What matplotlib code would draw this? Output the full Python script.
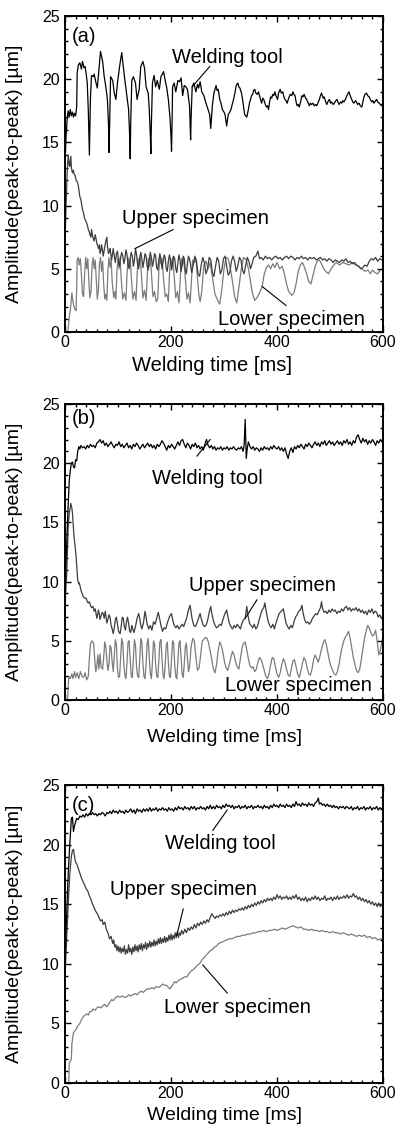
import matplotlib
matplotlib.use('Agg')
import matplotlib.pyplot as plt
from matplotlib.ticker import MultipleLocator

plt.rcParams['font.family'] = ['Liberation Sans', 'DejaVu Sans']

# ---------------- data (time [ms], amplitude [um]) ----------------
a_tool = [(0,13.0),(2,15.5),(4,16.8),(6,17.5),(8,17.0),(10,17.6),(12,17.1),(14,17.4),(16,17.0),(18,17.3),(20,17.1),(22,17.8),(23,20.5),(25,21.1),(28,21.3),(31,20.8),(33,21.4),(36,20.9),(38,21.0),(40,20.4),(42,19.7),(44,17.5),(46,14.0),(48,18.5),(50,20.3),(53,20.2),(55,20.4),(58,19.8),(61,19.3),(64,20.8),(67,22.2),(69,21.8),(71,21.4),(74,20.2),(77,19.4),(80,18.4),(82,16.5),(83,14.2),(84,16.0),(86,20.2),(90,19.9),(93,18.9),(96,18.4),(99,19.7),(103,21.0),(107,22.1),(110,21.0),(113,19.9),(116,18.9),(120,17.6),(122,15.5),(123,13.7),(124,16.5),(126,19.9),(129,20.2),(133,19.7),(136,18.4),(140,19.2),(143,21.0),(147,21.4),(150,20.9),(153,19.4),(157,18.9),(159,17.6),(161,15.5),(162,14.1),(163,16.5),(165,19.7),(168,20.3),(171,19.4),(174,19.9),(178,19.2),(181,20.2),(186,20.6),(189,19.9),(192,19.3),(195,18.4),(198,17.0),(200,15.5),(201,14.3),(202,16.5),(203,19.4),(206,19.7),(209,19.0),(213,19.9),(216,19.8),(219,20.1),(222,18.7),(225,19.5),(228,19.4),(231,19.2),(235,17.9),(237,15.2),(238,17.0),(240,19.4),(243,19.7),(247,19.0),(250,19.6),(252,19.3),(255,19.8),(258,19.0),(262,18.7),(266,18.1),(270,17.6),(273,17.2),(275,16.1),(278,17.9),(281,18.9),(285,19.5),(287,19.1),(289,19.2),(292,18.4),(295,18.0),(297,17.6),(300,17.4),(302,17.2),(305,16.3),(308,17.2),(311,17.4),(313,17.6),(316,18.1),(318,18.4),(321,19.0),(323,19.5),(326,19.7),(328,19.4),(330,19.3),(333,18.9),(335,18.4),(337,17.8),(339,17.2),(341,17.1),(343,17.0),(346,17.6),(348,18.1),(350,18.4),(352,18.7),(354,18.8),(356,19.1),(358,19.2),(360,18.9),(363,18.8),(365,19.0),(367,18.7),(369,18.4),(371,18.1),(373,18.5),(375,18.4),(378,18.0),(380,17.8),(382,17.9),(384,17.6),(386,18.2),(388,18.6),(390,18.5),(392,18.8),(394,18.7),(396,19.0),(398,18.7),(401,18.4),(403,18.9),(406,19.2),(408,18.9),(411,19.0),(413,18.6),(415,18.4),(417,18.3),(419,18.1),(422,18.5),(425,18.8),(428,18.7),(430,19.0),(432,18.8),(434,18.7),(436,18.2),(438,17.9),(440,18.0),(442,17.8),(445,18.3),(447,18.7),(449,18.6),(451,18.8),(454,18.5),(456,18.4),(459,18.1),(461,17.9),(463,18.1),(465,18.0),(468,18.1),(470,17.9),(473,18.0),(475,17.9),(478,18.2),(480,18.4),(482,18.7),(484,18.9),(487,18.5),(489,18.6),(492,18.2),(494,18.0),(497,18.3),(499,18.4),(501,18.1),(503,18.2),(506,18.0),(508,18.1),(511,18.3),(513,18.4),(515,18.2),(517,18.0),(520,18.2),(522,18.1),(524,18.3),(526,18.2),(529,18.4),(531,18.6),(533,18.8),(536,19.0),(538,18.7),(541,18.4),(543,18.2),(545,18.1),(548,18.3),(550,18.2),(552,18.0),(555,18.1),(557,17.9),(560,17.8),(562,18.2),(564,18.6),(566,18.8),(569,18.9),(571,18.7),(574,18.6),(576,18.4),(579,18.2),(581,18.3),(583,18.1),(586,18.3),(588,18.4),(590,18.2),(593,18.1),(595,18.0),(597,17.9),(600,18.0)]

a_upper = [(0,7.0),(2,10.0),(4,12.5),(6,14.0),(8,13.2),(9,13.1),(11,13.9),(12,13.0),(14,12.6),(16,12.8),(17,12.5),(19,12.4),(21,12.0),(23,11.9),(25,11.6),(27,11.0),(28,10.7),(30,10.5),(31,10.2),(33,9.7),(35,9.4),(37,9.0),(38,8.9),(40,8.7),(41,8.6),(43,8.3),(44,8.1),(46,7.9),(47,7.7),(49,7.5),(50,8.1),(52,7.6),(53,7.4),(55,7.2),(57,7.7),(59,7.3),(60,7.0),(62,6.8),(63,6.6),(65,6.9),(66,6.2),(68,6.5),(69,6.9),(71,6.4),(72,6.0),(74,6.5),(75,6.7),(77,7.2),(79,7.5),(80,6.8),(82,6.2),(84,6.4),(85,6.6),(87,6.0),(88,5.7),(90,6.3),(91,6.6),(93,6.0),(95,5.5),(97,6.2),(99,6.4),(101,5.6),(103,5.2),(105,5.9),(107,6.3),(109,6.0),(111,5.4),(113,5.8),(115,6.5),(117,6.1),(119,5.3),(121,5.0),(123,5.8),(125,6.3),(127,6.0),(129,5.2),(131,5.7),(133,6.6),(135,6.1),(137,5.3),(139,5.0),(141,5.9),(143,6.3),(145,5.8),(147,5.1),(149,5.6),(151,6.2),(153,6.0),(155,5.2),(157,4.9),(159,5.8),(161,6.3),(163,5.9),(165,5.2),(167,5.6),(169,6.2),(171,6.0),(173,5.1),(175,4.9),(177,5.7),(179,6.2),(181,5.8),(183,5.0),(185,5.5),(187,6.1),(189,5.9),(191,5.0),(193,4.8),(195,5.6),(197,6.1),(199,5.7),(201,4.9),(203,5.4),(205,6.0),(207,5.8),(209,5.0),(211,4.7),(213,5.5),(215,6.1),(217,5.7),(219,4.8),(221,5.3),(223,6.0),(225,5.8),(227,4.9),(229,4.6),(231,5.4),(233,6.0),(236,5.6),(239,4.7),(242,5.3),(245,6.0),(248,5.6),(251,4.6),(254,4.4),(257,5.3),(260,5.9),(263,5.5),(266,4.6),(269,5.0),(272,5.9),(275,5.7),(278,4.7),(281,4.4),(284,5.2),(287,5.9),(290,5.6),(293,4.6),(296,4.9),(299,5.8),(302,6.0),(305,5.2),(308,4.5),(311,4.7),(314,5.6),(317,6.0),(320,5.6),(323,4.8),(326,5.2),(329,5.9),(332,5.7),(335,4.9),(338,4.6),(341,5.3),(344,5.9),(347,5.6),(350,5.0),(353,5.4),(356,5.9),(360,6.0),(364,6.4),(367,5.8),(370,5.9),(374,5.7),(378,6.0),(382,5.8),(386,5.9),(390,5.7),(394,5.9),(398,6.0),(402,5.8),(406,5.9),(410,5.7),(414,5.9),(418,6.0),(422,5.8),(426,6.0),(430,5.9),(434,5.7),(438,5.9),(442,5.8),(446,6.0),(450,5.8),(454,5.9),(458,5.7),(462,5.9),(466,5.8),(470,5.9),(474,5.7),(478,5.8),(482,5.9),(486,5.7),(490,5.8),(494,5.6),(498,5.8),(502,5.7),(506,5.5),(510,5.7),(514,5.6),(518,5.5),(522,5.7),(526,5.6),(530,5.8),(534,5.5),(538,5.6),(542,5.4),(546,5.5),(550,5.3),(554,5.2),(558,5.0),(562,5.1),(566,5.3),(570,5.2),(574,5.6),(578,5.8),(582,5.7),(586,5.9),(590,5.6),(594,5.8),(598,5.7),(600,5.8)]

a_lower = [(0,0.0),(5,0.0),(6,0.3),(8,1.2),(10,1.7),(12,2.6),(13,3.1),(15,2.4),(17,2.0),(19,1.8),(21,1.7),(22,3.5),(23,5.7),(25,5.9),(27,5.3),(29,5.8),(31,4.5),(33,3.0),(35,2.8),(37,4.6),(39,5.9),(41,5.0),(43,5.8),(45,4.0),(47,2.7),(49,3.2),(51,5.2),(53,5.9),(55,5.0),(57,5.7),(59,4.2),(61,2.6),(63,3.3),(65,5.4),(67,5.9),(69,4.8),(71,5.6),(73,3.8),(75,2.6),(77,3.0),(79,2.5),(81,4.9),(83,5.9),(85,5.1),(87,5.8),(89,4.0),(92,2.7),(94,3.2),(96,2.6),(98,4.8),(100,5.8),(102,5.0),(104,5.9),(106,4.3),(109,2.6),(112,3.1),(115,2.5),(117,4.6),(119,5.9),(121,5.2),(123,5.8),(125,4.4),(128,2.6),(131,3.2),(134,2.5),(136,4.5),(138,5.8),(140,5.3),(142,5.9),(144,4.6),(147,2.7),(150,3.3),(153,2.5),(155,4.3),(157,5.8),(159,5.2),(161,5.9),(163,4.7),(166,2.8),(169,3.2),(172,2.4),(175,2.6),(177,4.8),(179,5.9),(181,5.4),(183,5.8),(186,4.2),(189,2.8),(192,3.0),(195,2.4),(197,4.5),(199,5.8),(201,5.3),(203,5.9),(206,4.4),(209,2.7),(212,3.2),(215,2.3),(218,4.6),(220,5.8),(222,5.3),(224,5.9),(227,4.3),(230,2.6),(233,3.1),(236,2.3),(239,4.4),(241,5.7),(244,5.5),(247,5.8),(250,4.2),(253,2.8),(255,2.4),(258,3.2),(262,5.3),(266,5.6),(270,5.0),(274,5.5),(278,4.4),(283,3.0),(287,2.6),(292,2.2),(296,3.4),(300,5.0),(304,5.9),(308,5.8),(312,5.0),(316,4.0),(320,2.8),(324,2.3),(328,3.5),(333,5.1),(337,5.9),(342,5.7),(346,5.0),(350,4.0),(354,3.0),(358,2.5),(362,2.7),(366,3.0),(372,3.6),(376,4.6),(380,5.1),(384,5.3),(388,5.0),(392,5.4),(396,5.1),(400,5.5),(405,5.0),(410,5.2),(414,4.6),(418,3.8),(422,3.2),(428,2.9),(432,3.1),(436,3.8),(440,4.8),(444,5.3),(448,5.5),(452,5.1),(456,4.6),(460,4.0),(464,3.8),(468,4.5),(472,5.2),(476,5.6),(480,5.7),(484,5.4),(488,5.0),(492,4.8),(497,4.6),(502,5.0),(507,5.3),(512,5.5),(518,5.3),(524,5.5),(530,5.4),(536,5.3),(542,5.5),(548,5.3),(554,5.2),(560,5.0),(566,4.8),(572,4.9),(576,4.6),(580,4.9),(585,4.7),(590,4.6),(595,4.9),(600,5.0)]

b_tool = [(0,9.0),(3,13.0),(6,16.5),(8,18.5),(10,19.4),(12,20.0),(14,20.1),(16,19.7),(18,19.6),(20,20.3),(22,20.2),(24,21.0),(26,21.4),(28,21.2),(30,21.5),(33,21.3),(36,21.4),(39,21.2),(42,21.5),(45,21.3),(48,21.6),(51,21.4),(54,21.5),(57,21.3),(60,21.7),(63,21.8),(66,22.0),(69,21.7),(72,21.9),(75,21.5),(78,21.7),(81,21.4),(84,21.6),(87,21.8),(90,21.5),(93,21.3),(96,21.6),(99,21.5),(102,21.8),(105,21.4),(108,21.6),(111,21.3),(114,21.5),(117,21.7),(120,21.3),(123,21.5),(126,21.2),(129,21.6),(132,21.4),(135,21.7),(138,21.5),(141,21.2),(144,21.4),(147,21.6),(150,21.3),(153,21.5),(156,21.7),(159,21.4),(162,21.6),(165,21.3),(168,21.5),(171,21.2),(174,21.6),(177,21.4),(180,21.6),(183,21.9),(186,21.7),(189,21.4),(192,21.1),(195,21.5),(198,21.3),(201,21.6),(204,21.4),(207,21.2),(210,21.5),(213,21.8),(216,21.5),(219,21.9),(222,22.0),(225,21.6),(228,21.3),(231,21.7),(234,21.5),(237,21.2),(240,21.6),(243,21.4),(246,21.7),(249,21.3),(252,21.5),(255,21.2),(258,21.4),(261,21.1),(264,21.6),(267,22.0),(270,21.5),(273,21.3),(276,21.5),(279,21.2),(282,21.4),(285,21.1),(288,21.3),(291,21.2),(294,21.4),(297,21.1),(300,21.3),(303,21.2),(306,21.4),(309,21.1),(312,21.3),(315,21.2),(318,21.4),(321,21.2),(324,21.1),(327,21.3),(330,21.2),(333,21.4),(336,21.0),(338,21.5),(340,23.7),(341,22.0),(342,20.4),(344,21.3),(346,21.8),(349,21.4),(352,21.2),(355,21.4),(358,21.1),(361,21.3),(364,21.2),(367,21.0),(370,21.3),(373,21.1),(376,21.4),(379,21.2),(382,21.3),(385,21.1),(388,21.4),(391,21.2),(394,21.5),(397,21.3),(400,21.2),(403,21.4),(406,21.1),(409,21.3),(412,21.0),(415,21.3),(418,20.8),(421,20.4),(424,21.0),(427,21.3),(430,20.9),(433,21.4),(436,21.2),(439,21.5),(442,21.3),(445,21.6),(448,21.4),(451,21.2),(454,21.6),(457,21.4),(460,21.7),(463,21.5),(466,21.3),(469,21.6),(472,21.8),(475,21.5),(478,21.7),(481,21.4),(484,21.8),(487,21.6),(490,21.9),(493,21.5),(496,21.7),(499,21.9),(502,21.6),(505,21.8),(508,21.5),(511,21.7),(514,21.9),(517,21.6),(520,21.8),(523,21.5),(526,21.9),(529,21.7),(532,22.0),(535,21.6),(538,21.8),(541,21.5),(544,21.9),(547,21.7),(550,22.2),(553,22.4),(556,22.0),(559,21.7),(562,22.1),(565,21.8),(568,22.0),(571,21.6),(574,21.9),(577,21.7),(580,22.0),(583,21.8),(586,21.5),(589,21.9),(592,21.7),(595,22.0),(598,21.8),(600,21.9)]

b_upper = [(0,8.0),(3,10.4),(6,14.6),(8,15.8),(9,16.0),(11,16.6),(13,16.2),(14,15.8),(16,14.5),(17,13.8),(19,13.0),(21,12.1),(23,10.8),(24,10.1),(26,9.8),(27,9.9),(29,9.5),(30,9.3),(33,8.9),(35,8.7),(38,8.6),(40,8.6),(42,8.3),(44,8.2),(46,8.3),(48,8.0),(50,7.8),(53,7.9),(55,7.5),(57,7.7),(60,6.9),(62,7.3),(63,7.6),(65,7.2),(66,6.8),(68,7.1),(70,7.4),(72,7.3),(74,6.9),(76,7.5),(79,6.5),(81,6.8),(83,7.2),(85,7.0),(87,6.3),(89,6.0),(91,5.6),(93,6.1),(95,6.8),(97,7.0),(99,6.4),(101,5.8),(104,5.6),(106,6.2),(108,7.0),(110,6.9),(112,6.2),(114,5.9),(116,6.6),(118,7.0),(120,6.5),(122,5.8),(124,5.7),(126,6.3),(128,6.0),(130,5.7),(133,6.2),(136,6.9),(139,7.3),(141,6.9),(143,6.3),(145,6.0),(148,6.5),(151,7.5),(153,7.0),(155,6.4),(158,6.0),(161,6.3),(164,5.9),(167,6.6),(170,6.4),(173,6.9),(176,7.4),(178,7.0),(181,6.3),(184,5.8),(187,6.1),(190,6.0),(193,6.5),(196,6.9),(199,7.2),(201,7.3),(203,6.8),(206,6.3),(209,6.1),(212,6.3),(215,6.0),(218,6.2),(221,6.4),(224,6.2),(227,6.6),(230,7.0),(233,7.6),(236,8.0),(238,7.4),(240,6.8),(243,6.3),(246,6.2),(249,6.5),(252,6.9),(255,7.3),(257,6.9),(260,6.4),(263,6.2),(266,6.3),(269,6.7),(272,7.4),(275,7.9),(277,7.3),(280,6.7),(283,6.3),(286,6.1),(289,6.2),(292,6.4),(295,6.3),(298,6.8),(301,7.2),(305,7.6),(307,7.1),(310,6.5),(313,6.2),(316,6.0),(319,6.3),(322,6.1),(325,6.4),(328,6.2),(331,6.0),(334,6.5),(337,6.8),(340,6.9),(343,7.9),(345,7.2),(348,6.5),(351,6.3),(354,6.1),(357,6.4),(360,6.0),(363,6.2),(366,6.7),(369,7.2),(372,7.6),(375,7.8),(377,8.2),(380,7.4),(383,6.7),(386,6.3),(389,6.1),(392,6.4),(395,6.0),(398,6.5),(401,6.9),(404,7.3),(408,7.5),(412,7.7),(414,7.2),(417,6.5),(420,6.2),(423,6.0),(426,6.3),(429,6.1),(432,6.6),(435,7.0),(438,7.2),(441,7.5),(444,7.6),(447,8.0),(449,7.4),(452,6.8),(455,6.5),(458,6.6),(461,6.4),(464,6.6),(467,6.9),(470,7.1),(473,7.3),(476,7.2),(479,7.5),(482,7.8),(484,8.3),(486,7.7),(489,7.4),(492,7.5),(495,7.3),(498,7.6),(501,7.4),(504,7.7),(507,7.5),(510,7.6),(513,7.3),(516,7.5),(519,7.4),(522,7.7),(525,7.5),(528,7.8),(531,7.9),(534,7.6),(537,7.8),(540,7.5),(543,7.7),(546,7.6),(549,7.8),(552,7.5),(555,7.7),(558,7.4),(561,7.6),(564,7.3),(567,7.5),(570,7.2),(573,7.6),(576,7.4),(579,7.7),(582,7.3),(585,7.5),(588,7.4),(591,7.0),(594,7.2),(597,6.9),(600,6.8)]

b_lower = [(0,0.0),(5,0.0),(6,1.2),(7,2.0),(10,1.8),(13,2.2),(15,1.8),(18,2.4),(20,1.9),(23,2.3),(26,1.8),(29,2.4),(32,2.0),(35,1.9),(38,2.3),(41,1.7),(44,2.0),(46,3.5),(48,4.7),(51,5.0),(54,4.8),(56,3.5),(58,2.4),(60,2.8),(62,3.8),(64,2.6),(66,3.9),(68,2.8),(71,2.6),(73,3.6),(75,4.9),(77,4.5),(79,3.4),(81,2.5),(83,3.0),(85,4.6),(87,4.4),(89,3.2),(91,2.4),(93,3.8),(95,5.1),(97,4.7),(99,2.6),(101,1.9),(103,2.0),(105,3.6),(107,5.2),(109,4.8),(111,3.0),(113,2.1),(115,1.8),(117,3.2),(119,4.9),(121,5.0),(123,3.4),(125,2.0),(127,1.9),(129,3.5),(131,5.1),(133,4.6),(135,2.8),(137,2.0),(139,1.9),(141,3.4),(143,5.2),(145,4.9),(147,3.1),(149,2.0),(151,1.8),(153,3.0),(155,4.8),(157,5.2),(159,3.6),(161,2.2),(163,1.8),(165,3.2),(167,5.0),(169,4.7),(171,3.0),(173,2.0),(175,1.9),(177,3.3),(179,4.9),(181,5.1),(183,3.5),(185,2.1),(187,1.8),(189,3.0),(191,4.6),(193,4.9),(195,3.2),(197,2.0),(199,1.9),(201,3.4),(203,5.0),(205,4.8),(207,3.0),(209,2.0),(211,1.8),(213,3.3),(215,4.8),(217,5.0),(219,3.6),(221,2.2),(223,1.9),(225,3.0),(227,4.5),(229,4.8),(231,3.5),(233,2.4),(235,2.8),(238,4.5),(241,5.2),(244,5.0),(247,3.6),(250,2.5),(253,2.7),(256,3.8),(259,5.0),(262,5.1),(265,5.3),(268,5.2),(271,4.8),(274,4.1),(277,3.4),(280,2.6),(283,2.3),(286,3.0),(289,4.2),(292,4.9),(295,4.6),(298,4.0),(301,3.2),(304,2.7),(307,2.5),(310,3.0),(313,3.6),(316,4.1),(319,3.8),(322,3.2),(325,2.8),(328,2.6),(331,3.5),(334,4.4),(337,4.8),(340,4.9),(343,4.2),(346,3.5),(349,2.9),(352,2.7),(355,2.8),(358,2.4),(361,2.6),(364,3.2),(367,3.6),(370,3.4),(373,3.0),(376,2.5),(379,2.0),(382,1.8),(385,2.2),(388,3.0),(391,3.6),(394,3.5),(397,2.8),(400,2.2),(403,1.9),(406,2.3),(409,3.0),(412,3.5),(415,3.2),(418,2.6),(421,2.1),(424,2.0),(427,2.6),(430,3.3),(433,3.4),(436,2.8),(439,2.2),(442,1.9),(445,2.4),(448,3.1),(451,3.6),(454,3.3),(457,2.7),(460,2.2),(463,2.1),(466,2.6),(469,3.4),(472,3.8),(475,3.5),(478,3.2),(481,3.7),(484,4.3),(487,4.8),(490,5.1),(493,4.7),(496,4.0),(499,3.3),(502,2.8),(505,2.5),(508,2.2),(511,2.1),(514,2.4),(517,3.0),(520,3.8),(523,4.5),(526,5.0),(529,5.3),(532,5.5),(535,5.8),(538,5.2),(541,4.4),(544,3.6),(547,3.0),(550,2.5),(553,2.3),(556,2.6),(559,3.4),(562,4.3),(565,5.2),(568,5.8),(571,6.3),(574,6.1),(577,5.7),(580,5.4),(583,5.5),(586,5.9),(589,5.0),(592,3.8),(595,4.2),(598,5.0),(600,5.3)]

c_tool = [(0,10.0),(3,14.0),(6,17.5),(9,20.0),(12,22.2),(14,22.3),(16,21.1),(18,21.6),(20,21.9),(22,22.2),(25,22.1),(28,22.4),(31,22.3),(34,22.5),(37,22.3),(40,22.6),(43,22.4),(46,22.6),(49,22.5),(52,22.7),(55,22.5),(58,22.6),(61,22.4),(64,22.6),(67,22.5),(70,22.7),(73,22.6),(76,22.4),(79,22.7),(82,22.6),(85,22.8),(88,22.6),(91,22.9),(94,22.7),(97,22.8),(100,22.6),(103,22.9),(106,22.7),(109,22.8),(112,22.6),(115,22.9),(118,22.7),(121,22.8),(124,23.0),(127,22.7),(130,22.9),(133,22.6),(136,23.0),(139,22.8),(142,22.9),(145,22.7),(148,23.0),(151,22.8),(154,23.0),(157,22.8),(160,23.1),(163,22.8),(166,23.0),(169,22.9),(172,23.1),(175,22.8),(178,23.0),(181,22.9),(184,23.1),(187,22.9),(190,23.0),(193,22.8),(196,23.1),(199,22.9),(202,23.0),(205,22.8),(208,23.1),(211,22.9),(214,23.2),(217,23.0),(220,23.1),(223,22.9),(226,23.2),(229,23.0),(232,23.1),(235,22.9),(238,23.2),(241,23.0),(244,23.2),(247,22.9),(250,23.1),(253,23.0),(256,23.2),(259,23.0),(262,23.1),(265,22.9),(268,23.2),(271,23.0),(274,23.3),(277,23.0),(280,23.2),(283,23.0),(286,23.3),(289,23.1),(292,23.2),(295,23.0),(298,23.3),(301,23.1),(304,23.4),(307,23.2),(310,23.3),(313,23.1),(316,23.3),(319,23.0),(322,23.2),(325,23.1),(328,23.3),(331,23.0),(334,23.2),(337,23.1),(340,23.3),(343,23.0),(346,23.2),(349,23.1),(352,23.3),(355,23.0),(358,23.2),(361,23.1),(364,23.3),(367,23.1),(370,23.2),(373,23.0),(376,23.3),(379,23.1),(382,23.2),(385,23.0),(388,23.3),(391,23.1),(394,23.4),(397,23.2),(400,23.3),(403,23.1),(406,23.4),(409,23.2),(412,23.3),(415,23.1),(418,23.4),(421,23.2),(424,23.3),(427,23.1),(430,23.4),(433,23.2),(436,23.6),(439,23.3),(442,23.4),(445,23.2),(448,23.5),(451,23.3),(454,23.4),(457,23.2),(460,23.5),(463,23.3),(466,23.4),(469,23.2),(472,23.5),(475,23.6),(478,23.9),(480,23.4),(483,23.5),(486,23.3),(489,23.4),(492,23.2),(495,23.4),(498,23.2),(501,23.3),(504,23.1),(507,23.3),(510,23.1),(513,23.2),(516,23.0),(519,23.2),(522,23.1),(525,23.2),(528,23.0),(531,23.2),(534,23.1),(537,23.0),(540,23.2),(543,22.9),(546,23.1),(549,23.0),(552,23.2),(555,22.9),(558,23.1),(561,23.0),(564,23.2),(567,22.9),(570,23.1),(573,23.0),(576,23.2),(579,22.9),(582,23.1),(585,23.0),(588,23.2),(591,22.9),(594,23.1),(597,23.0),(600,23.1)]

c_upper = [(0,9.0),(3,12.0),(6,15.0),(9,17.5),(12,19.0),(14,19.5),(16,19.6),(18,19.0),(20,18.5),(22,18.4),(25,18.0),(28,17.6),(31,17.2),(34,16.9),(37,16.6),(40,16.3),(43,16.1),(46,15.7),(49,15.4),(52,15.0),(55,14.7),(58,14.4),(61,14.2),(64,13.9),(67,13.6),(70,13.7),(72,13.3),(75,13.5),(78,12.9),(81,12.6),(84,12.1),(87,12.3),(90,11.7),(92,12.0),(94,11.4),(96,11.6),(98,11.1),(100,11.5),(102,11.0),(104,11.4),(106,10.9),(108,11.3),(110,11.0),(112,11.5),(114,10.8),(116,11.2),(118,10.9),(120,11.6),(122,11.0),(124,11.3),(126,10.8),(128,11.4),(130,11.0),(132,11.6),(134,11.1),(136,11.5),(138,11.0),(140,11.6),(142,11.2),(144,11.7),(146,11.1),(148,11.6),(150,11.3),(152,11.8),(154,11.2),(156,11.7),(158,11.4),(160,11.9),(162,11.4),(164,11.8),(166,11.5),(168,12.0),(170,11.5),(172,11.9),(174,11.6),(176,12.1),(178,11.7),(180,12.2),(182,11.7),(184,12.1),(186,11.8),(188,12.3),(190,11.8),(192,12.2),(194,11.9),(196,12.4),(198,12.0),(200,12.5),(202,12.0),(204,12.4),(206,12.1),(208,12.6),(210,12.2),(212,12.7),(214,12.2),(216,12.6),(218,12.4),(220,12.8),(223,12.5),(226,12.9),(229,12.6),(232,13.0),(235,12.8),(238,13.1),(241,12.9),(244,13.3),(247,13.0),(250,13.4),(253,13.2),(256,13.5),(259,13.3),(262,13.6),(265,13.4),(268,13.7),(271,13.5),(274,13.9),(277,14.2),(280,14.0),(283,13.8),(286,14.0),(289,13.9),(292,14.1),(295,14.0),(298,14.2),(301,14.0),(304,14.3),(307,14.1),(310,14.4),(313,14.2),(316,14.5),(319,14.3),(322,14.5),(325,14.4),(328,14.6),(331,14.5),(334,14.7),(337,14.5),(340,14.8),(343,14.6),(346,14.9),(349,14.7),(352,15.0),(355,14.8),(358,15.1),(361,14.9),(364,15.2),(367,15.0),(370,15.3),(373,15.1),(376,15.4),(379,15.2),(382,15.5),(385,15.3),(388,15.5),(391,15.3),(394,15.6),(397,15.4),(400,15.8),(403,15.5),(406,15.7),(409,15.4),(412,15.6),(415,15.5),(418,15.7),(421,15.4),(424,15.6),(427,15.4),(430,15.7),(433,15.5),(436,15.8),(439,15.4),(442,15.6),(445,15.3),(448,15.5),(451,15.3),(454,15.6),(457,15.2),(460,15.5),(463,15.3),(466,15.6),(469,15.4),(472,15.7),(475,15.4),(478,15.6),(481,15.3),(484,15.5),(487,15.4),(490,15.7),(493,15.3),(496,15.5),(499,15.4),(502,15.6),(505,15.3),(508,15.6),(511,15.4),(514,15.7),(517,15.4),(520,15.6),(523,15.5),(526,15.7),(529,15.5),(532,15.8),(535,15.5),(538,15.7),(541,15.6),(544,15.9),(547,15.6),(550,15.7),(553,15.4),(556,15.6),(559,15.3),(562,15.5),(565,15.2),(568,15.4),(571,15.1),(574,15.3),(577,15.0),(580,15.2),(583,14.9),(586,15.1),(589,14.8),(592,15.1),(595,14.8),(598,15.0),(600,14.9)]

c_lower = [(0,0.0),(7,0.0),(8,1.7),(10,1.8),(12,2.0),(13,3.3),(15,3.9),(16,4.2),(19,4.4),(21,4.5),(23,4.7),(26,4.9),(28,5.0),(31,5.3),(35,5.6),(38,5.7),(41,5.8),(44,5.7),(47,6.0),(50,6.0),(53,6.2),(57,6.1),(60,6.3),(64,6.4),(68,6.3),(72,6.5),(75,6.6),(79,6.4),(82,6.6),(85,6.8),(88,7.0),(91,6.9),(94,7.1),(97,7.2),(100,7.3),(104,7.2),(108,7.3),(112,7.2),(116,7.2),(120,7.4),(124,7.3),(128,7.4),(132,7.5),(136,7.4),(140,7.6),(144,7.7),(148,7.6),(152,7.8),(156,7.9),(160,7.9),(164,8.0),(168,7.9),(172,8.1),(176,8.0),(180,8.1),(184,8.3),(188,8.2),(192,8.2),(195,8.0),(198,7.9),(201,8.1),(204,8.3),(207,8.5),(210,8.4),(214,8.6),(218,8.7),(222,8.8),(226,8.9),(230,8.9),(234,9.2),(238,9.4),(242,9.5),(246,9.7),(250,9.9),(254,10.0),(258,10.3),(262,10.5),(266,10.7),(270,10.9),(274,11.1),(278,11.2),(282,11.4),(286,11.5),(290,11.7),(295,11.8),(300,11.9),(305,12.0),(310,12.1),(315,12.1),(320,12.2),(325,12.3),(330,12.3),(335,12.4),(340,12.4),(345,12.5),(350,12.5),(355,12.6),(360,12.6),(365,12.7),(370,12.7),(375,12.8),(380,12.7),(385,12.8),(390,12.8),(395,12.9),(400,12.8),(405,12.9),(410,13.0),(415,12.9),(420,13.0),(425,13.1),(430,13.2),(435,13.1),(440,13.0),(445,13.1),(450,12.9),(455,12.9),(460,12.8),(465,12.9),(470,12.8),(475,12.8),(480,12.7),(485,12.8),(490,12.7),(495,12.7),(500,12.6),(505,12.7),(510,12.6),(515,12.6),(520,12.5),(525,12.6),(530,12.5),(535,12.4),(540,12.5),(545,12.4),(550,12.3),(555,12.4),(560,12.3),(565,12.4),(570,12.2),(575,12.3),(580,12.1),(585,12.2),(590,12.0),(595,12.1),(600,12.0)]

series_names = ["Welding tool", "Upper specimen", "Lower specimen"]
panel_labels = ["(a)", "(b)", "(c)"]
x_label = "Welding time [ms]"
y_label = "Amplitude(peak-to-peak) [\u00b5m]"
x_ticks = [0, 200, 400, 600]
y_ticks = [0, 5, 10, 15, 20, 25]

# ---------------- styling ----------------
W, H = 400, 1133
fig = plt.figure(figsize=(W / 100, H / 100), dpi=100)
line_colors = ["#000000", "#3d3d3d", "#7c7c7c"]

panels = [
    dict(box=(65, 16, 383, 332), data=[a_tool, a_upper, a_lower],
         texts=[(307, 21.7, 273, 21.0, 240, 19.4),
                (247, 9.0, 204, 8.1, 132, 6.6),
                (428, 0.95, 417, 2.1, 372, 3.6)],
         tag=(36, 23.4), xlab=(212, 366, 14.5)),
    dict(box=(65, 404, 383, 700), data=[b_tool, b_upper, b_lower],
         texts=[(268, 18.75, 249, 20.6, 274, 22.0),
                (372, 9.7, 362, 8.45, 340, 6.9),
                (440, 1.2, None, None, None, None)],
         tag=(36, 23.8), xlab=(224, 737, 14)),
    dict(box=(65, 785, 383, 1083), data=[c_tool, c_upper, c_lower],
         texts=[(294, 20.1, 279, 21.2, 306, 22.9),
                (223, 16.2, 223, 14.6, 211, 12.4),
                (326, 6.3, 306, 7.55, 260, 9.9)],
         tag=(34, 23.3), xlab=(224, 1116, 14)),
]

for i, p in enumerate(panels):
    l, t, r, b = p["box"]
    ax = fig.add_axes([l / W, 1 - b / H, (r - l) / W, (b - t) / H])
    for k, ser in enumerate(p["data"]):
        xs = [q[0] for q in ser]
        ys = [q[1] for q in ser]
        ax.plot(xs, ys, color=line_colors[k], lw=0.9, zorder=3 - k)
    ax.set_xlim(0, 600)
    ax.set_ylim(0, 25)
    ax.set_xticks(x_ticks)
    ax.set_yticks(y_ticks)
    ax.xaxis.set_minor_locator(MultipleLocator(20))
    ax.yaxis.set_minor_locator(MultipleLocator(1))
    ax.tick_params(which='both', direction='in', top=True, right=True,
                   labelsize=11.5, width=1.0)
    ax.tick_params(which='major', length=4.5)
    ax.tick_params(which='minor', length=2.5)
    ax.tick_params(axis='y', pad=4)
    ax.tick_params(axis='x', pad=2.5)
    for s in ax.spines.values():
        s.set_linewidth(1.4)
    ax.set_ylabel(y_label, fontsize=14)
    ax.yaxis.set_label_coords(-0.132, 0.5)
    xl_x, xl_y, xl_fs = p["xlab"]
    fig.text(xl_x / W, 1 - xl_y / H, x_label, fontsize=xl_fs,
             ha='center', va='center')
    ax.text(p["tag"][0], p["tag"][1], panel_labels[i], fontsize=14.5,
            ha='center', va='center')
    for k, (tx, ty, x0, y0, x1, y1) in enumerate(p["texts"]):
        ax.text(tx, ty, series_names[k], fontsize=14.5, ha='center',
                va='center', zorder=5)
        if x0 is not None:
            ax.plot([x0, x1], [y0, y1], color='black', lw=0.8, zorder=5)

fig.savefig("out.png", dpi=100)
